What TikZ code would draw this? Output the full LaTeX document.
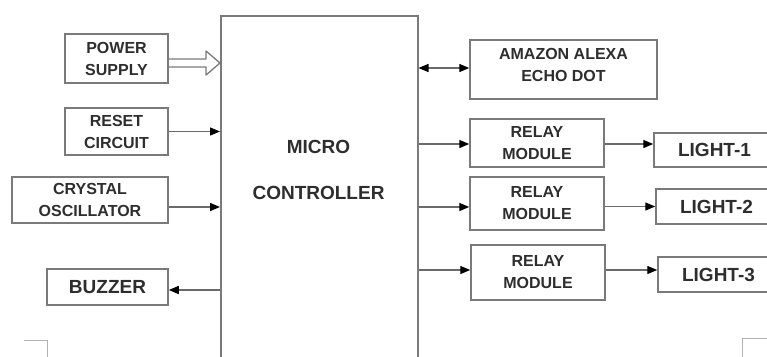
\documentclass[tikz,border=0pt]{standalone}
\usepackage{fontspec}
\setmainfont{Liberation Sans}
\usetikzlibrary{arrows.meta,calc}
\definecolor{boxc}{HTML}{7A7A7A}
\definecolor{linec}{HTML}{6A6A6A}
\definecolor{txt}{HTML}{2E2E2E}
\begin{document}
\begin{tikzpicture}[x=1pt,y=-1pt,
  blk/.style={draw=boxc, line width=1.5pt, align=center, inner sep=0pt, text=txt,
              font=\bfseries\fontsize{16}{22}\selectfont},
  big/.style={font=\bfseries\fontsize{19}{23}\selectfont},
  conn/.style={draw=linec, line width=1.4pt},
  tipa/.style={},
  arr/.style={conn, -{Triangle[length=10pt,width=8pt,color=black]}},
  darr/.style={conn, {Triangle[length=10pt,width=8pt,color=black]}-{Triangle[length=10pt,width=8pt,color=black]}},
  cornermark/.style={draw=black!30, line width=1pt}
  ]
\useasboundingbox (0,0) rectangle (767,356);
\clip (0,0) rectangle (767,356);
\fill[white] (0,0) rectangle (767,356);

% micro controller (open at the bottom of the page)
\node[blk, minimum width=197pt, minimum height=380pt, anchor=north west] (mc) at (220,15) {};
\node[text=txt, big, anchor=base] (mct1) at (318.5,153) {MICRO};
\node[text=txt, big, anchor=base] (mct2) at (318.5,199) {CONTROLLER};

% left blocks
\node[blk, minimum width=103pt, minimum height=49pt] (ps) at (116.5,58.5) {POWER\\SUPPLY};
\node[blk, minimum width=103pt, minimum height=47pt] (rc) at (116.5,131.5) {RESET\\CIRCUIT};
\node[blk, minimum width=156pt, minimum height=46pt] (xo) at (90,200) {CRYSTAL\\OSCILLATOR};
\node[blk, big, minimum width=121pt, minimum height=36pt] (bz) at (107.5,287) {BUZZER};

% right blocks
\node[blk, minimum width=187pt, minimum height=59pt] (ax) at (563.5,69.5) {};
\node[text=txt, align=center, font=\bfseries\fontsize{16}{22}\selectfont] (axt) at (563.5,65) {AMAZON ALEXA\\ECHO DOT};
\node[blk, minimum width=134pt, minimum height=48pt] (r1) at (537,143) {RELAY\\MODULE};
\node[blk, minimum width=134pt, minimum height=53pt] (r2) at (537,203.5) {RELAY\\MODULE};
\node[blk, minimum width=134pt, minimum height=55pt] (r3) at (538,272.5) {RELAY\\MODULE};
\node[blk, big, minimum width=121pt, minimum height=34pt] (l1) at (714.5,150) {LIGHT-1};
\node[blk, big, minimum width=121pt, minimum height=35pt] (l2) at (716.5,206.5) {LIGHT-2};
\node[blk, big, minimum width=121pt, minimum height=35pt] (l3) at (718.5,274.5) {LIGHT-3};

% power supply hollow arrow
\coordinate (pa) at ($(ps.east)+(0,4.5)$);
\coordinate (pt) at (pa -| mc.west);
\draw[draw=boxc, line width=1.3pt, line join=round]
  ($(pa)+(0,-4)$) -- ($(pt)+(-14,-4)$) -- ($(pt)+(-14,-12)$) -- (pt)
  -- ($(pt)+(-14,12)$) -- ($(pt)+(-14,4)$) -- ($(pa)+(0,4)$);

% inputs
\draw[arr] (rc.east) -- (rc.east -| mc.west);
\draw[arr] ($(xo.east)+(0,7)$) -- ($(xo.east -| mc.west)+(0,7)$);
\draw[arr] ($(bz.east -| mc.west)+(0,3)$) -- ($(bz.east)+(0,3)$);

% outputs
\draw[darr] ($(ax.west -| mc.east)+(0,-1.5)$) -- ($(ax.west)+(0,-1.5)$);
\draw[arr] ($(r1.west -| mc.east)+(0,1)$) -- ($(r1.west)+(0,1)$);
\draw[arr] ($(r2.west -| mc.east)+(0,3.5)$) -- ($(r2.west)+(0,3.5)$);
\draw[arr] ($(r3.west -| mc.east)+(0,-2.5)$) -- ($(r3.west)+(0,-2.5)$);
\draw[arr] ($(r1.east)+(0,1)$) -- ($(r1.east -| l1.west)+(0,1)$);
\draw[arr] ($(r2.east)+(0,3)$) -- ($(r2.east -| l2.west)+(0,3)$);
\draw[arr] ($(r3.east)+(0,-2.5)$) -- ($(r3.east -| l3.west)+(0,-2.5)$);

% page corner marks
\draw[cornermark] (24,340) -- (47,340) -- (47,360);
\draw[cornermark] (742,360) -- (742,338) -- (770,338);
\end{tikzpicture}
\end{document}
